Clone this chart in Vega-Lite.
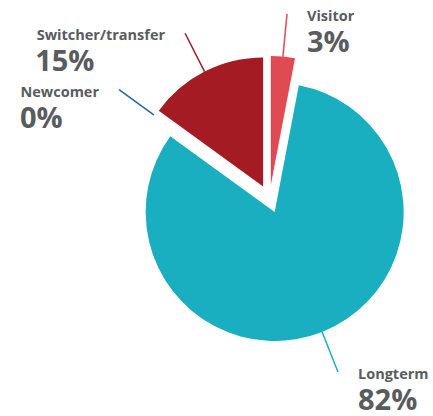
{
  "$schema": "https://vega.github.io/schema/vega-lite/v6.json",
  "width": 327,
  "height": 398,
  "autosize": {"type": "none"},
  "padding": {"left": 106, "top": 0, "right": 0, "bottom": 18},
  "config": {"view": {"stroke": null}},
  "data": {
    "values": [
      {"category": "Visitor", "value": 0.03},
      {"category": "Longterm", "value": 0.82},
      {"category": "Newcomer", "value": 0.0},
      {"category": "Switcher/transfer", "value": 0.15}
    ]
  },
  "transform": [{"window": [{"op": "row_number", "as": "rank"}]}],
  "encoding": {
    "theta": {"field": "value", "type": "quantitative", "stack": true},
    "order": {"field": "rank", "type": "quantitative"},
    "color": {
      "field": "category",
      "type": "nominal",
      "scale": {
        "domain": ["Visitor", "Longterm", "Newcomer", "Switcher/transfer"],
        "range": ["#e04a52", "#1aafc0", "#2066b2", "#a51b24"]
      },
      "legend": null
    }
  },
  "layer": [
    {
      "mark": {
        "type": "arc",
        "radius": 129,
        "x": {"expr": "width/2 + 14*sin((scale('theta', datum.value_start) + scale('theta', datum.value_end))/2)"},
        "y": {"expr": "height/2 - 14*cos((scale('theta', datum.value_start) + scale('theta', datum.value_end))/2)"}
      }
    },
    {
      "transform": [
        {"stack": "value", "groupby": [], "sort": [{"field": "rank", "order": "ascending"}], "as": ["value_start", "value_end"]}
      ],
      "mark": {
        "type": "arc",
        "filled": false,
        "radius": 172,
        "radius2": 129,
        "strokeWidth": 1.5,
        "x": {"expr": "width/2 + 14*sin((scale('theta', datum.value_start) + scale('theta', datum.value_end))/2)"},
        "y": {"expr": "height/2 - 14*cos((scale('theta', datum.value_start) + scale('theta', datum.value_end))/2)"}
      },
      "encoding": {
        "theta": {"value": {"expr": "(scale('theta', datum.value_start) + scale('theta', datum.value_end))/2"}},
        "theta2": {"value": {"expr": "(scale('theta', datum.value_start) + scale('theta', datum.value_end))/2"}}
      }
    },
    {
      "mark": {
        "type": "text",
        "radius": 172,
        "font": "Open Sans",
        "fontWeight": "bold",
        "fontSize": 14.5,
        "baseline": "alphabetic",
        "dy": 7,
        "align": {"expr": "sin((scale('theta', datum.value_start) + scale('theta', datum.value_end))/2) > 0 ? 'left' : 'right'"},
        "dx": {"expr": "sin((scale('theta', datum.value_start) + scale('theta', datum.value_end))/2) > 0 ? 20 : -20"},
        "x": {"expr": "width/2 + 14*sin((scale('theta', datum.value_start) + scale('theta', datum.value_end))/2)"},
        "y": {"expr": "height/2 - 14*cos((scale('theta', datum.value_start) + scale('theta', datum.value_end))/2)"}
      },
      "encoding": {
        "text": {"field": "category", "type": "nominal"},
        "color": {"value": "#585c5e"}
      }
    },
    {
      "mark": {
        "type": "text",
        "radius": 172,
        "font": "Open Sans",
        "fontWeight": "bold",
        "fontSize": 29,
        "baseline": "alphabetic",
        "dy": 38,
        "align": "left",
        "dx": {"expr": "sin((scale('theta', datum.value_start) + scale('theta', datum.value_end))/2) > 0 ? 20 : -20 - 14.5*(0.6*length(datum.category) - 0.19*length(replace(datum.category, regexp('[^itrfl/]', 'g'), '')) + 0.28*length(replace(datum.category, regexp('[^mwMWN]', 'g'), '')))"},
        "x": {"expr": "width/2 + 14*sin((scale('theta', datum.value_start) + scale('theta', datum.value_end))/2)"},
        "y": {"expr": "height/2 - 14*cos((scale('theta', datum.value_start) + scale('theta', datum.value_end))/2)"}
      },
      "encoding": {
        "text": {"field": "value", "type": "quantitative", "format": ".0%"},
        "color": {"value": "#585c5e"}
      }
    }
  ]
}
